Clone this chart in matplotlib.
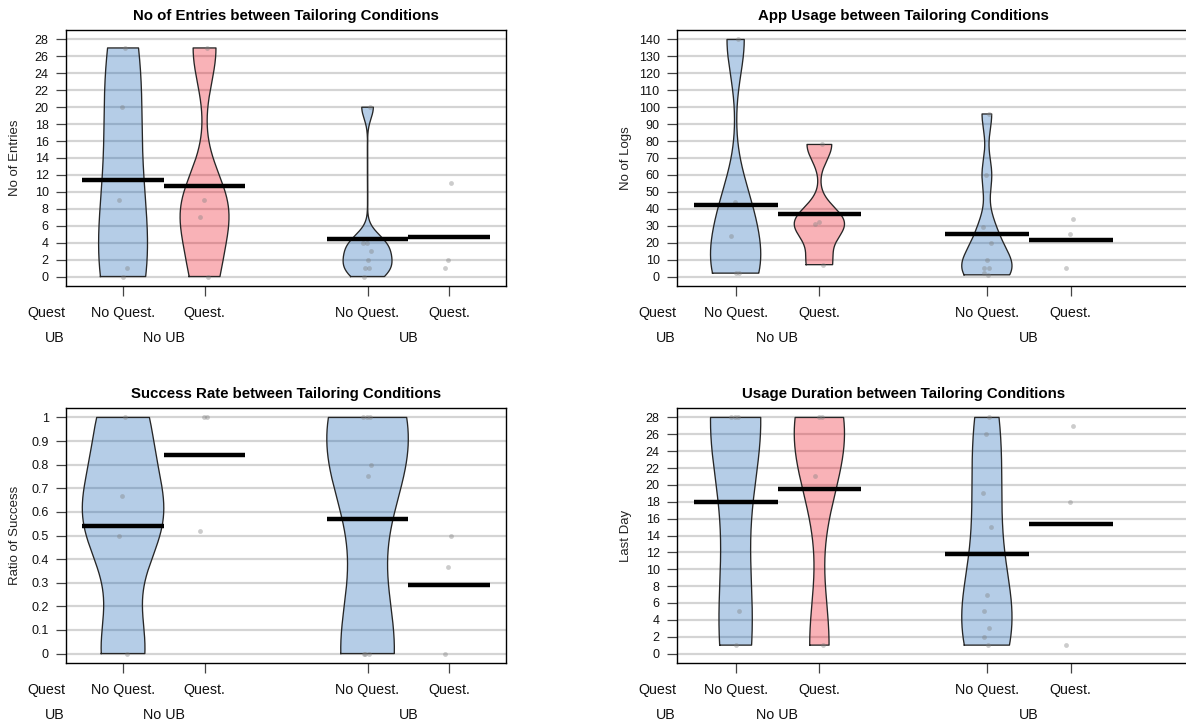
import numpy as np
import matplotlib
matplotlib.use("Agg")
import matplotlib.pyplot as plt
from matplotlib.ticker import FuncFormatter

# ---- data -------------------------------------------------------------
conditions = ["No Quest.", "Quest.", "No Quest.", "Quest."]
groups = ["No UB", "UB"]
positions = [1, 2, 4, 5]

# No of entries per participant
entries_noub_noq = [27, 20, 9, 1, 0]
entries_noub_q = [27, 9, 7, 0]
entries_ub_noq = [20, 4, 4, 3, 2, 1, 1, 0]
entries_ub_q = [11, 2, 1]

# No of logs (app usage)
logs_noub_noq = [140, 44, 24, 2, 2]
logs_noub_q = [78, 32, 31, 7]
logs_ub_noq = [96, 60, 29, 20, 10, 5, 5, 2, 1]
logs_ub_q = [34, 25, 5]

# Ratio of success
success_noub_noq = [1.0, 0.667, 0.5, 0.0]
success_noub_q = [1.0, 1.0, 0.52]
success_ub_noq = [1.0, 1.0, 1.0, 0.8, 0.75, 0.0, 0.0, 0.0]
success_ub_q = [0.5, 0.367, 0.0]

# Last day of usage
lastday_noub_noq = [28, 28, 28, 5, 1]
lastday_noub_q = [28, 28, 21, 1]
lastday_ub_noq = [28, 26, 19, 15, 7, 5, 3, 2, 1]
lastday_ub_q = [27, 18, 1]

panels = [
    dict(title="No of Entries between Tailoring Conditions", ylabel="No of Entries",
         data=[entries_noub_noq, entries_noub_q, entries_ub_noq, entries_ub_q],
         yticks=np.arange(0, 29, 2)),
    dict(title="App Usage between Tailoring Conditions", ylabel="No of Logs",
         data=[logs_noub_noq, logs_noub_q, logs_ub_noq, logs_ub_q],
         yticks=np.arange(0, 141, 10)),
    dict(title="Success Rate between Tailoring Conditions", ylabel="Ratio of Success",
         data=[success_noub_noq, success_noub_q, success_ub_noq, success_ub_q],
         yticks=np.round(np.arange(0, 1.01, 0.1), 1)),
    dict(title="Usage Duration between Tailoring Conditions", ylabel="Last Day",
         data=[lastday_noub_noq, lastday_noub_q, lastday_ub_noq, lastday_ub_q],
         yticks=np.arange(0, 29, 2)),
]

# ---- style ------------------------------------------------------------
BLUE = "#0C5BB0"
RED = "#EE0011"
bean_colors = [BLUE, RED, BLUE, RED]
JITTER = [0.03, -0.01, -0.05, 0.045, 0.0, -0.03, 0.02, -0.04, 0.01]
WIDTH_MIN, WIDTH_MAX = 0.3, 0.5

FONT = "Liberation Sans"
TXT = "#111111"

W, H = 1186, 725
fig = plt.figure(figsize=(W / 100, H / 100), dpi=100)


def add_axes(x0, x1, y0, y1):
    return fig.add_axes([x0 / W, 1 - y1 / H, (x1 - x0) / W, (y1 - y0) / H])


def nrd0(x):
    x = np.asarray(x, float)
    sd = np.std(x, ddof=1)
    q1, q3 = np.percentile(x, [25, 75])
    lo = min(sd, (q3 - q1) / 1.34)
    if lo <= 0:
        lo = sd if sd > 0 else (abs(x[0]) if x[0] != 0 else 1.0)
    return 0.9 * lo * len(x) ** -0.2


def bean(vals):
    v = np.asarray(vals, float)
    bw = nrd0(v)
    ys = np.linspace(v.min(), v.max(), 512)
    d = np.exp(-0.5 * ((ys[:, None] - v[None, :]) / bw) ** 2).sum(axis=1)
    d /= len(v) * bw * np.sqrt(2 * np.pi)
    m = d.max()
    if m < WIDTH_MIN:
        d = d / m * WIDTH_MIN
    elif m > WIDTH_MAX:
        d = d / m * WIDTH_MAX
    return ys, d


# pixel boxes of the four plotting regions (left, right, top, bottom, px per unit)
boxes = [
    (66, 506, 30, 286, 81.5),
    (677, 1200, 30, 286, 83.75),
    (66, 506, 408, 663, 81.5),
    (677, 1200, 408, 663, 83.75),
]

for panel, (x0, x1, y0, y1, ppu) in zip(panels, boxes):
    ax = add_axes(x0, x1, y0, y1)
    yt = panel["yticks"]
    top = yt[-1]
    ax.set_ylim(-0.04 * top, 1.04 * top)
    ax.set_xlim(0.3, 0.3 + (x1 - x0) / ppu)

    ax.set_axisbelow(True)
    ax.yaxis.grid(True, color="#d4d4d4", lw=1.6)
    ax.set_yticks(yt)
    ax.yaxis.set_major_formatter(FuncFormatter(lambda v, p: f"{v:g}"))
    ax.set_xticks(positions)
    ax.set_xticklabels([])
    ax.tick_params(axis="both", direction="out", length=7.5, width=0.9,
                   color="#444444", labelcolor=TXT)
    ax.tick_params(axis="y", labelsize=9, pad=5)
    for lab in ax.get_yticklabels():
        lab.set_family(FONT)
    for s in ax.spines.values():
        s.set_linewidth(1.0)
        s.set_color("black")

    for pos, vals, col in zip(positions, panel["data"], bean_colors):
        vals = np.asarray(vals, float)
        if len(vals) >= 4:
            ys, d = bean(vals)
            ax.fill_betweenx(ys, pos - d, pos + d, facecolor=col, alpha=0.3,
                             edgecolor="none", zorder=2)
            xs = np.concatenate([pos - d, (pos + d)[::-1], [pos - d[0]]])
            yy = np.concatenate([ys, ys[::-1], [ys[0]]])
            ax.plot(xs, yy, color="#262626", lw=0.95, zorder=3)
        jit = np.array(JITTER[:len(vals)])
        ax.scatter(pos + jit, vals, s=12, color="gray", alpha=0.4, lw=0, zorder=4)
        m = vals.mean()
        ax.plot([pos - 0.5, pos + 0.5], [m, m], color="black", lw=3.2,
                solid_capstyle="butt", zorder=5)

    # condition and group labels below the axis
    lab_kw = dict(textcoords="offset pixels", va="baseline", fontsize=10.3,
                  family=FONT, color=TXT, annotation_clip=False)
    for pos, name in zip(positions, conditions):
        ax.annotate(name, xy=(pos, 0), xycoords=("data", "axes fraction"),
                    xytext=(0, -31), ha="center", **lab_kw)
    for gx, g in zip([1.5, 4.5], groups):
        ax.annotate(g, xy=(gx, 0), xycoords=("data", "axes fraction"),
                    xytext=(0, -56), ha="center", **lab_kw)
    for txt, off in (("Quest", -31), ("UB", -56)):
        ax.annotate(txt, xy=(0.3, 0), xycoords=("data", "axes fraction"),
                    xytext=(-1, off), ha="right", **lab_kw)

    ax.annotate(panel["title"], xy=(3.0, 1), xycoords=("data", "axes fraction"),
                xytext=(0, 10), textcoords="offset pixels", ha="center",
                va="baseline", fontsize=10.8, fontweight="bold", family=FONT,
                color="black", annotation_clip=False)
    ax.annotate(panel["ylabel"], xy=(0, 0.5), xycoords="axes fraction",
                xytext=(-51, 0), textcoords="offset pixels", ha="center",
                va="center", rotation=90, fontsize=9.5, family=FONT,
                color="#222222")

fig.savefig("out.png", dpi=100)
